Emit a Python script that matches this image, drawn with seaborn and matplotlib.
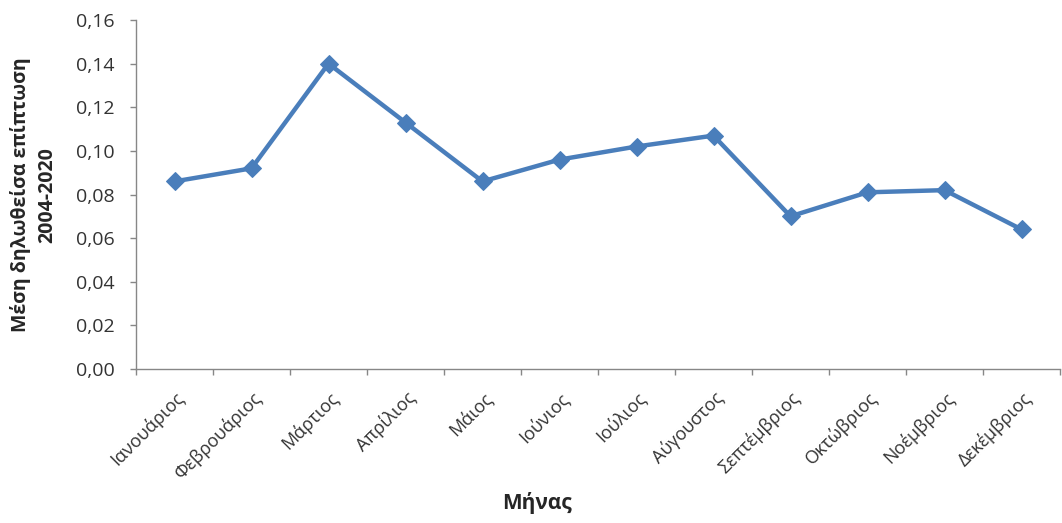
import matplotlib
matplotlib.use("Agg")
import matplotlib.pyplot as plt
import seaborn as sns
import pandas as pd
import numpy as np
from matplotlib.ticker import FixedLocator, FuncFormatter

months = ["Ιανουάριος", "Φεβρουάριος", "Μάρτιος", "Απρίλιος", "Μάιος", "Ιούνιος",
          "Ιούλιος", "Αύγουστος", "Σεπτέμβριος", "Οκτώβριος", "Νοέμβριος", "Δεκέμβριος"]
incidence = [0.086, 0.092, 0.140, 0.113, 0.086, 0.096,
             0.102, 0.107, 0.070, 0.081, 0.082, 0.064]
y_ticks = [0.00, 0.02, 0.04, 0.06, 0.08, 0.10, 0.12, 0.14, 0.16]

df = pd.DataFrame({"Μήνας": months, "value": incidence})
df["pos"] = np.arange(len(months))

sns.set_theme(style="white")
plt.rcParams["font.family"] = ["Open Sans", "DejaVu Sans"]

fig = plt.figure(figsize=(10.62, 5.23), dpi=100)
ax = fig.add_axes([136 / 1062, 1 - 369 / 523, 924 / 1062, 349 / 523])

sns.lineplot(data=df, x="pos", y="value", ax=ax, color="#4A7EBB", linewidth=3.2,
             marker="D", markersize=9, markeredgecolor="#4A7EBB")

ax.set_xlim(-0.5, len(months) - 0.5)
ax.set_ylim(0, 0.16)
ax.set_yticks(y_ticks)
ax.yaxis.set_major_formatter(FuncFormatter(lambda v, p: f"{v:.2f}".replace(".", ",")))

ax.set_xticks(df["pos"])
ax.set_xticklabels(months, rotation=45, ha="right", rotation_mode="anchor")
ax.xaxis.set_minor_locator(FixedLocator(np.arange(-0.5, len(months), 1.0)))
ax.tick_params(axis="x", which="major", length=0, pad=14, labelsize=13, labelcolor="#333333")
ax.tick_params(axis="x", which="minor", length=4.5, width=1, color="#878787", direction="out", bottom=True)
ax.tick_params(axis="y", length=4.5, width=1, color="#878787", direction="out", left=True,
               labelsize=14, labelcolor="#333333", pad=11)

for side in ["top", "right"]:
    ax.spines[side].set_visible(False)
for side in ["left", "bottom"]:
    ax.spines[side].set_color("#878787")
    ax.spines[side].set_linewidth(1)

ax.set_xlabel("Μήνας", fontsize=15, fontweight="bold")
ax.xaxis.set_label_coords((537 - 136) / 924, -(503 - 369) / 349)
ax.xaxis.label.set_va("center")
ax.set_ylabel("Μέση δηλωθείσα επίπτωση\n2004-2020", fontsize=14, fontweight="bold",
              linespacing=1.4)
ax.yaxis.set_label_coords(-(136 - 34) / 924, (369 - 195) / 349)
ax.yaxis.label.set_va("center")

fig.savefig("out.png", dpi=100)
